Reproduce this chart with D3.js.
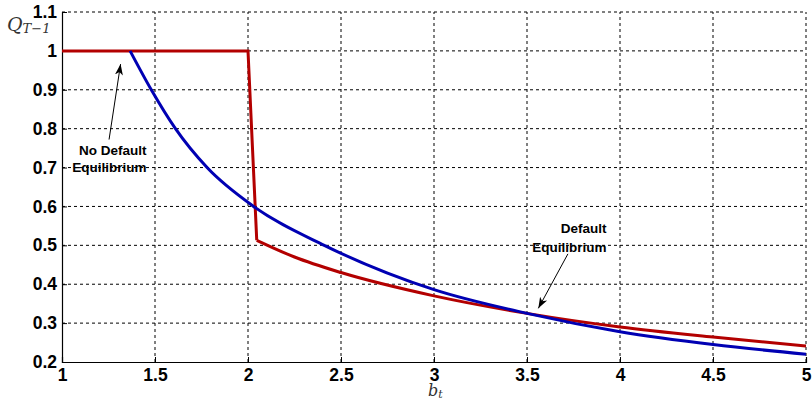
<!DOCTYPE html>
<html>
<head>
<meta charset="utf-8">
<title></title>
<style>
body { margin: 0; background: #fff; }
.grid line { stroke: #000; stroke-width: 1px; stroke-dasharray: 3,3; }
.tick text { font: bold 17.5px "Liberation Sans", Arial, sans-serif; fill: #000; }
.note { font: bold 13.5px "Liberation Sans", Arial, sans-serif; fill: #000; }
.sym { font-family: "DejaVu Serif", "Liberation Serif", serif; font-style: italic; fill: #333; }
</style>
</head>
<body>
<script src="https://cdn.jsdelivr.net/npm/d3@7"></script>
<script>

// ticks
var xTicks = [1, 1.5, 2, 2.5, 3, 3.5, 4, 4.5, 5];
var yTicks = [0.2, 0.3, 0.4, 0.5, 0.6, 0.7, 0.8, 0.9, 1, 1.1];

// blue curve
var blueB = [1.366, 1.48, 1.61, 1.78, 2.03, 2.41, 3, 3.5, 4, 4.5, 5];
var blueQ = [1.0, 0.9, 0.8, 0.7, 0.6, 0.5, 0.386, 0.325, 0.278, 0.245, 0.22];

// red curve: flat part + drop, then the decaying tail
var redStepB = [1, 2.0, 2.047];
var redStepQ = [1, 1, 0.513];
var redTailB = [2.047, 2.25, 2.5, 3, 3.5, 4, 4.5, 5];
var redTailQ = [0.513, 0.47, 0.43, 0.37, 0.325, 0.29, 0.264, 0.241];

var width = 812,
    height = 402;
var margin = {left: 62, right: 6, top: 12, bottom: 40};

var x = d3.scaleLinear().domain([1, 5]).range([margin.left, width - margin.right]);
var y = d3.scaleLinear().domain([0.2, 1.1]).range([height - margin.bottom, margin.top]);

var svg = d3.select("body").append("svg")
    .attr("width", width)
    .attr("height", height);

svg.append("defs").append("marker")
    .attr("id", "head")
    .attr("viewBox", "-11 -5 12 10")
    .attr("refX", 0)
    .attr("refY", 0)
    .attr("markerWidth", 12)
    .attr("markerHeight", 10)
    .attr("markerUnits", "userSpaceOnUse")
    .attr("orient", "auto")
  .append("path")
    .attr("d", "M0,0L-11,-4L-8,0L-11,4Z")
    .attr("fill", "#000");

// grid
var grid = svg.append("g").attr("class", "grid");
grid.selectAll(".gx")
    .data(xTicks.slice(1))
    .enter().append("line")
    .attr("x1", function(d) { return x(d); })
    .attr("x2", function(d) { return x(d); })
    .attr("y1", y(0.2))
    .attr("y2", y(1.1));
grid.selectAll(".gy")
    .data(yTicks.slice(1))
    .enter().append("line")
    .attr("x1", x(1))
    .attr("x2", x(5))
    .attr("y1", function(d) { return y(d); })
    .attr("y2", function(d) { return y(d); });

// axes (ticks pointing inward, like matlab)
var xAxis = svg.append("g")
    .attr("transform", "translate(0," + y(0.2) + ")")
    .call(d3.axisBottom(x).tickValues(xTicks).tickSize(-5).tickPadding(9)
      .tickFormat(function(d) { return d; }));
var yAxis = svg.append("g")
    .attr("transform", "translate(" + x(1) + ",0)")
    .call(d3.axisLeft(y).tickValues(yTicks).tickSize(-5).tickPadding(5)
      .tickFormat(function(d) { return d; }));
[xAxis, yAxis].forEach(function(a) {
  a.select(".domain").attr("stroke", "#000").attr("stroke-width", 1.2);
  a.selectAll(".tick line").attr("stroke", "#000");
});
xAxis.selectAll(".tick text").attr("dy", "0.55em");

// curves
function pts(bs, qs) {
  return bs.map(function(b, i) { return [b, qs[i]]; });
}
var lineLin = d3.line()
    .x(function(d) { return x(d[0]); })
    .y(function(d) { return y(d[1]); });
var lineSmooth = d3.line()
    .curve(d3.curveMonotoneX)
    .x(function(d) { return x(d[0]); })
    .y(function(d) { return y(d[1]); });

var red = "#b30000",
    blue = "#0000b3";

svg.append("path")
    .attr("d", lineLin(pts(redStepB, redStepQ)))
    .attr("fill", "none").attr("stroke", red).attr("stroke-width", 3);
svg.append("path")
    .attr("d", lineSmooth(pts(redTailB, redTailQ)))
    .attr("fill", "none").attr("stroke", red).attr("stroke-width", 3);
svg.append("path")
    .attr("d", lineSmooth(pts(blueB, blueQ)))
    .attr("fill", "none").attr("stroke", blue).attr("stroke-width", 3);

// annotations
var notes = [
  {lines: ["No Default", "Equilibrium"], bx: 1.454, q: [0.732, 0.688],
   from: [1.253, 0.772], to: [1.315, 0.966]},
  {lines: ["Default", "Equilibrium"], bx: 3.927, q: [0.532, 0.484],
   from: [3.72, 0.478], to: [3.561, 0.338]}
];
notes.forEach(function(n) {
  n.lines.forEach(function(t, i) {
    svg.append("text")
      .attr("class", "note")
      .attr("x", x(n.bx))
      .attr("y", y(n.q[i]))
      .attr("text-anchor", "end")
      .text(t);
  });
  svg.append("line")
    .attr("x1", x(n.from[0])).attr("y1", y(n.from[1]))
    .attr("x2", x(n.to[0])).attr("y2", y(n.to[1]))
    .attr("stroke", "#000").attr("stroke-width", 1)
    .attr("marker-end", "url(#head)");
});

// axis labels
var ql = svg.append("text").attr("class", "sym").attr("x", 7).attr("y", 31);
ql.append("tspan").style("font-size", "19px").text("Q");
ql.append("tspan").style("font-size", "13px").attr("dy", 2).text("T\u22121");

var bl = svg.append("text").attr("class", "sym").attr("x", x(3) - 6).attr("y", 396);
bl.append("tspan").style("font-size", "16px").text("b");
bl.append("tspan").style("font-size", "11px").attr("dy", 2).text("t");

</script>
</body>
</html>
